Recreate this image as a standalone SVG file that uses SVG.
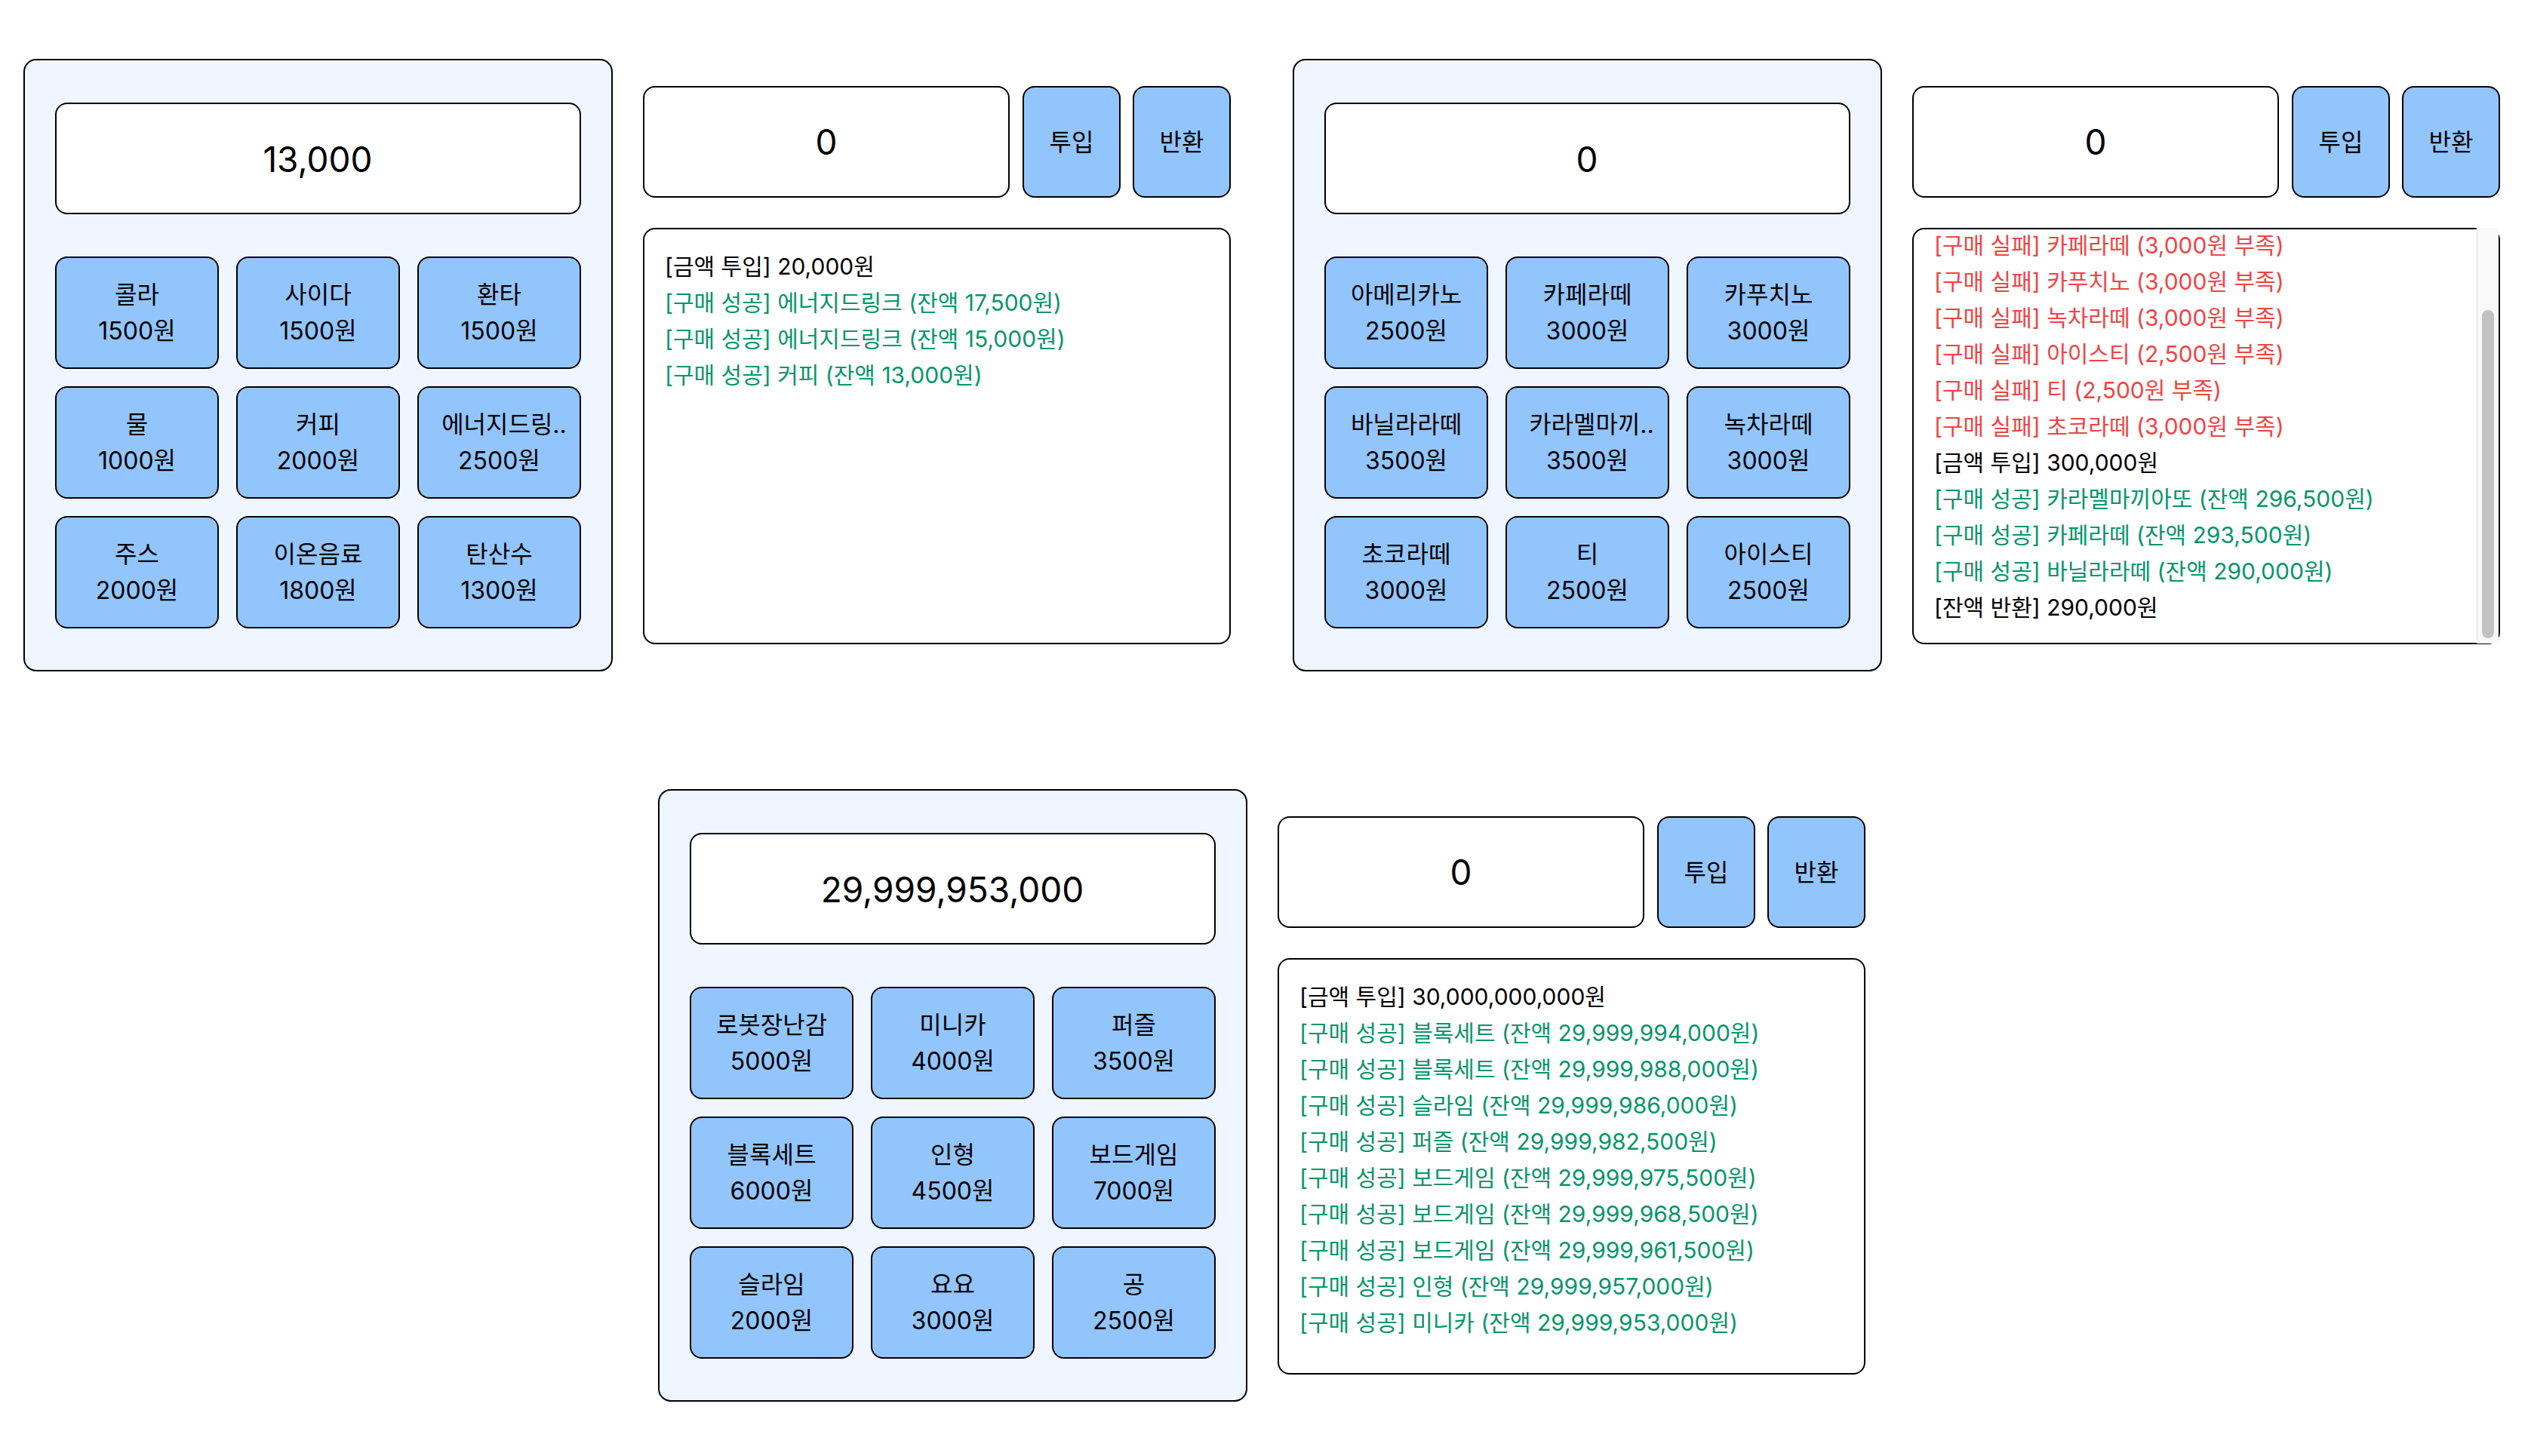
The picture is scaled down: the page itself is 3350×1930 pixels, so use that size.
<svg xmlns="http://www.w3.org/2000/svg" width="3350" height="1930" viewBox="0 0 3350 1930">
<style>
text{font-family:Inter,"Noto Sans CJK KR","Noto Sans",sans-serif;fill:#000}
.panel{fill:#eff6ff;stroke:#000;stroke-width:2}
.box{fill:#fff;stroke:#000;stroke-width:2}
.btn{fill:#93c5fd;stroke:#000;stroke-width:2}
.big{font-size:46px;text-anchor:middle}
.bt{font-size:32px;text-anchor:middle}
.log{font-size:30px}
.ok{fill:#059669}
.fail{fill:#ef4444}
</style>
<defs>
<rect id="item" width="215" height="147" rx="15" class="btn"/>
</defs>
<rect width="3350" height="1930" fill="#fff"/>

<!-- Unit 1 -->
<g id="machine1">
 <g id="panel1">
  <rect x="32" y="79" width="779" height="810" rx="16" class="panel"/>
  <rect x="74" y="137" width="695" height="146" rx="15" class="box"/>
  <text x="421" y="228" class="big">13,000</text>
 </g>
 <g id="items1">
  <use href="#item" x="74" y="341"/><text x="181.5" y="402" class="bt">콜라</text><text x="181.5" y="450" class="bt">1500원</text>
  <use href="#item" x="314" y="341"/><text x="421.5" y="402" class="bt">사이다</text><text x="421.5" y="450" class="bt">1500원</text>
  <use href="#item" x="554" y="341"/><text x="661.5" y="402" class="bt">환타</text><text x="661.5" y="450" class="bt">1500원</text>
  <use href="#item" x="74" y="513"/><text x="181.5" y="574" class="bt">물</text><text x="181.5" y="622" class="bt">1000원</text>
  <use href="#item" x="314" y="513"/><text x="421.5" y="574" class="bt">커피</text><text x="421.5" y="622" class="bt">2000원</text>
  <use href="#item" x="554" y="513"/><text x="668" y="574" class="bt">에너지드링..</text><text x="661.5" y="622" class="bt">2500원</text>
  <use href="#item" x="74" y="685"/><text x="181.5" y="746" class="bt">주스</text><text x="181.5" y="794" class="bt">2000원</text>
  <use href="#item" x="314" y="685"/><text x="421.5" y="746" class="bt">이온음료</text><text x="421.5" y="794" class="bt">1800원</text>
  <use href="#item" x="554" y="685"/><text x="661.5" y="746" class="bt">탄산수</text><text x="661.5" y="794" class="bt">1300원</text>
 </g>
 <g id="controls1">
  <rect x="853" y="115" width="484" height="146" rx="15" class="box"/>
  <text x="1095" y="205" class="big">0</text>
  <rect x="1356" y="115" width="128" height="146" rx="15" class="btn"/>
  <text x="1420" y="200" class="bt">투입</text>
  <rect x="1502" y="115" width="128" height="146" rx="15" class="btn"/>
  <text x="1566" y="200" class="bt">반환</text>
 </g>
 <g id="log1">
  <rect x="853" y="303" width="777" height="550" rx="15" class="box"/>
  <text x="881" y="364" class="log">[금액 투입] 20,000원</text>
  <text x="881" y="412" class="log ok">[구매 성공] 에너지드링크 (잔액 17,500원)</text>
  <text x="881" y="460" class="log ok">[구매 성공] 에너지드링크 (잔액 15,000원)</text>
  <text x="881" y="508" class="log ok">[구매 성공] 커피 (잔액 13,000원)</text>
 </g>
</g>

<!-- Unit 2 -->
<g id="machine2" transform="translate(1682,0)">
 <g id="panel2">
  <rect x="32" y="79" width="779" height="810" rx="16" class="panel"/>
  <rect x="74" y="137" width="695" height="146" rx="15" class="box"/>
  <text x="421" y="228" class="big">0</text>
 </g>
 <g id="items2">
  <use href="#item" x="74" y="341"/><text x="181.5" y="402" class="bt">아메리카노</text><text x="181.5" y="450" class="bt">2500원</text>
  <use href="#item" x="314" y="341"/><text x="421.5" y="402" class="bt">카페라떼</text><text x="421.5" y="450" class="bt">3000원</text>
  <use href="#item" x="554" y="341"/><text x="661.5" y="402" class="bt">카푸치노</text><text x="661.5" y="450" class="bt">3000원</text>
  <use href="#item" x="74" y="513"/><text x="181.5" y="574" class="bt">바닐라라떼</text><text x="181.5" y="622" class="bt">3500원</text>
  <use href="#item" x="314" y="513"/><text x="427" y="574" class="bt">카라멜마끼..</text><text x="421.5" y="622" class="bt">3500원</text>
  <use href="#item" x="554" y="513"/><text x="661.5" y="574" class="bt">녹차라떼</text><text x="661.5" y="622" class="bt">3000원</text>
  <use href="#item" x="74" y="685"/><text x="181.5" y="746" class="bt">초코라떼</text><text x="181.5" y="794" class="bt">3000원</text>
  <use href="#item" x="314" y="685"/><text x="421.5" y="746" class="bt">티</text><text x="421.5" y="794" class="bt">2500원</text>
  <use href="#item" x="554" y="685"/><text x="661.5" y="746" class="bt">아이스티</text><text x="661.5" y="794" class="bt">2500원</text>
 </g>
 <g id="controls2">
  <rect x="853" y="115" width="484" height="146" rx="15" class="box"/>
  <text x="1095" y="205" class="big">0</text>
  <rect x="1356" y="115" width="128" height="146" rx="15" class="btn"/>
  <text x="1420" y="200" class="bt">투입</text>
  <rect x="1502" y="115" width="128" height="146" rx="15" class="btn"/>
  <text x="1566" y="200" class="bt">반환</text>
 </g>
 <g id="log2">
  <rect x="853" y="303" width="777" height="550" rx="15" class="box"/>
  <text x="881" y="336" class="log fail">[구매 실패] 카페라떼 (3,000원 부족)</text>
  <text x="881" y="384" class="log fail">[구매 실패] 카푸치노 (3,000원 부족)</text>
  <text x="881" y="432" class="log fail">[구매 실패] 녹차라떼 (3,000원 부족)</text>
  <text x="881" y="480" class="log fail">[구매 실패] 아이스티 (2,500원 부족)</text>
  <text x="881" y="528" class="log fail">[구매 실패] 티 (2,500원 부족)</text>
  <text x="881" y="576" class="log fail">[구매 실패] 초코라떼 (3,000원 부족)</text>
  <text x="881" y="624" class="log">[금액 투입] 300,000원</text>
  <text x="881" y="672" class="log ok">[구매 성공] 카라멜마끼아또 (잔액 296,500원)</text>
  <text x="881" y="720" class="log ok">[구매 성공] 카페라떼 (잔액 293,500원)</text>
  <text x="881" y="768" class="log ok">[구매 성공] 바닐라라떼 (잔액 290,000원)</text>
  <text x="881" y="816" class="log">[잔액 반환] 290,000원</text>
  <rect x="1600" y="302" width="29" height="551" fill="#f9f9f9"/>
  <line x1="1600.5" y1="302" x2="1600.5" y2="853" stroke="#e6e6e6" stroke-width="1.5"/>
  <rect x="1607" y="411" width="16" height="435" rx="8" fill="#c1c1c1"/>
 </g>
</g>

<!-- Unit 3 -->
<g id="machine3" transform="translate(841,968)">
 <g id="panel3">
  <rect x="32" y="79" width="779" height="810" rx="16" class="panel"/>
  <rect x="74" y="137" width="695" height="146" rx="15" class="box"/>
  <text x="421" y="228" class="big">29,999,953,000</text>
 </g>
 <g id="items3">
  <use href="#item" x="74" y="341"/><text x="181.5" y="402" class="bt">로봇장난감</text><text x="181.5" y="450" class="bt">5000원</text>
  <use href="#item" x="314" y="341"/><text x="421.5" y="402" class="bt">미니카</text><text x="421.5" y="450" class="bt">4000원</text>
  <use href="#item" x="554" y="341"/><text x="661.5" y="402" class="bt">퍼즐</text><text x="661.5" y="450" class="bt">3500원</text>
  <use href="#item" x="74" y="513"/><text x="181.5" y="574" class="bt">블록세트</text><text x="181.5" y="622" class="bt">6000원</text>
  <use href="#item" x="314" y="513"/><text x="421.5" y="574" class="bt">인형</text><text x="421.5" y="622" class="bt">4500원</text>
  <use href="#item" x="554" y="513"/><text x="661.5" y="574" class="bt">보드게임</text><text x="661.5" y="622" class="bt">7000원</text>
  <use href="#item" x="74" y="685"/><text x="181.5" y="746" class="bt">슬라임</text><text x="181.5" y="794" class="bt">2000원</text>
  <use href="#item" x="314" y="685"/><text x="421.5" y="746" class="bt">요요</text><text x="421.5" y="794" class="bt">3000원</text>
  <use href="#item" x="554" y="685"/><text x="661.5" y="746" class="bt">공</text><text x="661.5" y="794" class="bt">2500원</text>
 </g>
 <g id="controls3">
  <rect x="853" y="115" width="484" height="146" rx="15" class="box"/>
  <text x="1095" y="205" class="big">0</text>
  <rect x="1356" y="115" width="128" height="146" rx="15" class="btn"/>
  <text x="1420" y="200" class="bt">투입</text>
  <rect x="1502" y="115" width="128" height="146" rx="15" class="btn"/>
  <text x="1566" y="200" class="bt">반환</text>
 </g>
 <g id="log3">
  <rect x="853" y="303" width="777" height="550" rx="15" class="box"/>
  <text x="881" y="364" class="log">[금액 투입] 30,000,000,000원</text>
  <text x="881" y="412" class="log ok">[구매 성공] 블록세트 (잔액 29,999,994,000원)</text>
  <text x="881" y="460" class="log ok">[구매 성공] 블록세트 (잔액 29,999,988,000원)</text>
  <text x="881" y="508" class="log ok">[구매 성공] 슬라임 (잔액 29,999,986,000원)</text>
  <text x="881" y="556" class="log ok">[구매 성공] 퍼즐 (잔액 29,999,982,500원)</text>
  <text x="881" y="604" class="log ok">[구매 성공] 보드게임 (잔액 29,999,975,500원)</text>
  <text x="881" y="652" class="log ok">[구매 성공] 보드게임 (잔액 29,999,968,500원)</text>
  <text x="881" y="700" class="log ok">[구매 성공] 보드게임 (잔액 29,999,961,500원)</text>
  <text x="881" y="748" class="log ok">[구매 성공] 인형 (잔액 29,999,957,000원)</text>
  <text x="881" y="796" class="log ok">[구매 성공] 미니카 (잔액 29,999,953,000원)</text>
 </g>
</g>

<g id="connectors"></g>
</svg>
